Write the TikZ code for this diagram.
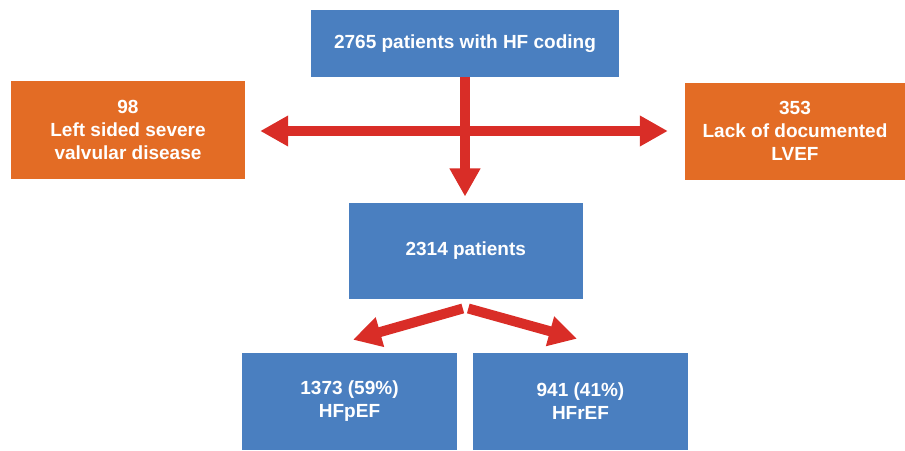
\documentclass[tikz,border=0pt]{standalone}
\usepackage{fontspec}
\setmainfont{Liberation Sans}
\usetikzlibrary{arrows.meta}
\definecolor{boxblue}{RGB}{74,127,192}
\definecolor{boxorange}{RGB}{227,108,37}
\definecolor{arrowred}{RGB}{217,45,39}
\begin{document}
\begin{tikzpicture}[x=1pt,y=1pt,
  box/.style={rectangle, inner sep=0pt, align=center, text=white,
    font=\fontsize{19}{23}\selectfont\bfseries},
  bluebox/.style={box, fill=boxblue},
  orangebox/.style={box, fill=boxorange},
  head/.style={Triangle[width=29pt,length=28pt]},
  flow/.style={draw=arrowred, line width=10pt, -{Triangle[width=29pt,length=28pt]}},
  bothflow/.style={draw=arrowred, line width=10pt,
    {Triangle[width=29pt,length=28pt]}-{Triangle[width=29pt,length=28pt]}},
]
\useasboundingbox (0,0) rectangle (905,450);

% boxes
\node[bluebox, minimum width=308pt, minimum height=66.7pt] (total) at (465,406.7)
  {2765 patients with HF coding};
\node[orangebox, minimum width=234pt, minimum height=98pt] (valv) at (128,320)
  {98\\Left sided severe\\valvular disease};
\node[orangebox, minimum width=220pt, minimum height=97.3pt] (lvef) at (795,318.7)
  {353\\Lack of documented\\LVEF};
\node[bluebox, minimum width=233.7pt, minimum height=96.6pt] (incl) at (465.8,199)
  {2314 patients};
\node[bluebox, minimum width=215pt, minimum height=97.3pt] (pef) at (349.5,48.7)
  {1373 (59\%)\\HFpEF};
\node[bluebox, minimum width=215pt, minimum height=97.3pt] (ref) at (580.5,48.7)
  {941 (41\%)\\HFrEF};

% exclusions branching left and right
\draw[bothflow] ([xshift=15pt,yshift=-1pt]valv.east) -- ([xshift=-17pt,yshift=-1pt]valv.east -| lvef.west);

% main flow downwards
\draw[flow] (total.south) -- ([yshift=6pt]incl.north -| total.south);

% split by ejection fraction
\draw[flow] ([xshift=-3pt,yshift=-9pt]incl.south) -- ([xshift=3.5pt,yshift=12.7pt]pef.north);
\draw[flow] ([xshift=2.5pt,yshift=-9pt]incl.south) -- ([xshift=-3.5pt,yshift=13.7pt]ref.north);
\end{tikzpicture}
\end{document}
